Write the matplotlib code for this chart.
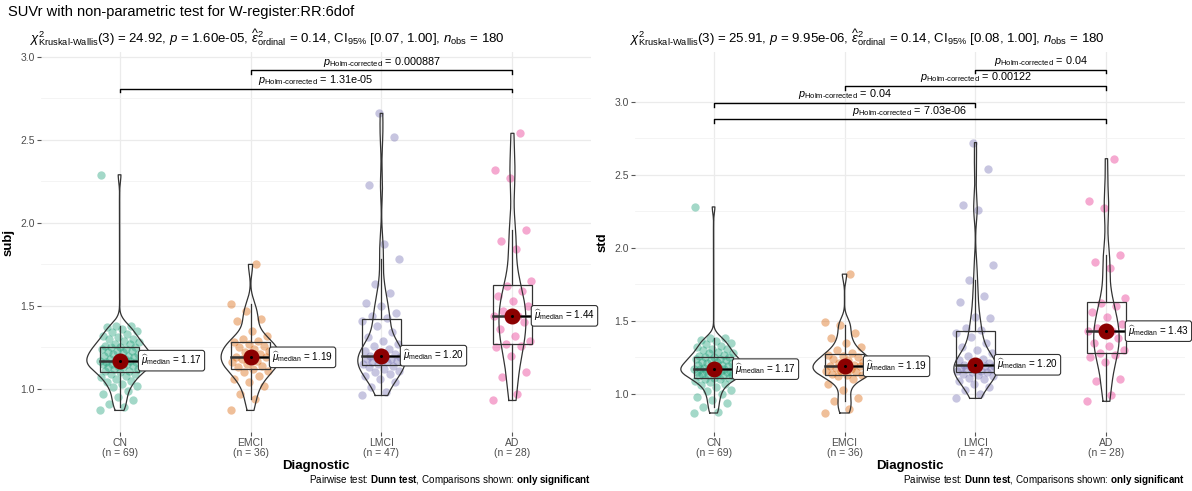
import numpy as np
import matplotlib
matplotlib.use('Agg')
from matplotlib import pyplot as plt
from matplotlib.patches import Rectangle

plt.rcParams['font.family'] = ['Liberation Sans', 'DejaVu Sans']
plt.rcParams['mathtext.fontset'] = 'custom'
plt.rcParams['mathtext.rm'] = 'Liberation Sans'
plt.rcParams['mathtext.it'] = 'Liberation Sans:italic'
plt.rcParams['mathtext.bf'] = 'Liberation Sans:bold'

groups = ['CN', 'EMCI', 'LMCI', 'AD']
colors = ['#1B9E77', '#D95F02', '#7570B3', '#E7298A']

# subj values per group
subj_cn = [0.87, 0.89, 0.91, 0.93, 0.95, 0.97, 0.99, 1.01, 1.02, 1.03, 1.04, 1.05,
           1.06, 1.07, 1.08, 1.09, 1.09, 1.10, 1.11, 1.11, 1.12, 1.12, 1.13, 1.13,
           1.14, 1.14, 1.15, 1.15, 1.15, 1.16, 1.16, 1.16, 1.17, 1.17, 1.17, 1.18,
           1.18, 1.19, 1.19, 1.20, 1.20, 1.21, 1.21, 1.22, 1.22, 1.23, 1.23, 1.24,
           1.24, 1.25, 1.25, 1.25, 1.26, 1.27, 1.27, 1.28, 1.29, 1.30, 1.30, 1.31,
           1.32, 1.33, 1.34, 1.35, 1.36, 1.37, 1.38, 1.38, 2.29]
subj_emci = [0.87, 0.94, 0.97, 1.02, 1.04, 1.06, 1.08, 1.10, 1.11, 1.12, 1.13, 1.14,
             1.15, 1.16, 1.17, 1.18, 1.19, 1.19, 1.19, 1.21, 1.22, 1.23, 1.24, 1.25,
             1.26, 1.27, 1.28, 1.29, 1.30, 1.32, 1.35, 1.41, 1.42, 1.47, 1.51, 1.75]
subj_lmci = [0.96, 0.98, 1.01, 1.04, 1.06, 1.08, 1.09, 1.10, 1.11, 1.12, 1.13, 1.14,
             1.15, 1.15, 1.16, 1.16, 1.17, 1.17, 1.18, 1.18, 1.19, 1.19, 1.19, 1.20,
             1.21, 1.22, 1.23, 1.24, 1.26, 1.27, 1.29, 1.31, 1.34, 1.38, 1.41, 1.43,
             1.44, 1.46, 1.50, 1.52, 1.58, 1.63, 1.78, 1.87, 2.23, 2.52, 2.66]
subj_ad = [0.93, 0.97, 1.07, 1.10, 1.20, 1.25, 1.26, 1.27, 1.29, 1.32, 1.36, 1.40,
           1.42, 1.44, 1.44, 1.47, 1.50, 1.53, 1.56, 1.59, 1.62, 1.65, 1.84, 1.89,
           1.96, 2.27, 2.32, 2.54]

# std values per group
std_cn = [0.87, 0.88, 0.91, 0.94, 0.96, 0.98, 1.00, 1.02, 1.03, 1.05, 1.06, 1.07,
          1.08, 1.09, 1.10, 1.10, 1.11, 1.11, 1.12, 1.12, 1.13, 1.13, 1.14, 1.14,
          1.15, 1.15, 1.15, 1.16, 1.16, 1.16, 1.17, 1.17, 1.17, 1.17, 1.17, 1.18,
          1.18, 1.19, 1.19, 1.20, 1.20, 1.21, 1.21, 1.22, 1.22, 1.23, 1.23, 1.24,
          1.24, 1.25, 1.25, 1.25, 1.26, 1.27, 1.28, 1.28, 1.29, 1.30, 1.31, 1.31,
          1.32, 1.33, 1.34, 1.35, 1.36, 1.37, 1.38, 1.38, 2.28]
std_emci = [0.87, 0.90, 0.95, 0.97, 1.03, 1.07, 1.10, 1.12, 1.13, 1.13, 1.14, 1.15,
            1.16, 1.16, 1.17, 1.18, 1.19, 1.19, 1.19, 1.20, 1.21, 1.22, 1.23, 1.24,
            1.25, 1.26, 1.27, 1.28, 1.30, 1.32, 1.35, 1.38, 1.42, 1.47, 1.49, 1.82]
std_lmci = [0.97, 1.00, 1.03, 1.05, 1.07, 1.09, 1.10, 1.11, 1.12, 1.13, 1.14, 1.15,
            1.15, 1.16, 1.16, 1.17, 1.17, 1.18, 1.18, 1.19, 1.19, 1.19, 1.20, 1.20,
            1.21, 1.22, 1.23, 1.24, 1.26, 1.28, 1.30, 1.32, 1.35, 1.39, 1.42, 1.44,
            1.45, 1.52, 1.53, 1.63, 1.67, 1.78, 1.88, 2.26, 2.29, 2.54, 2.72]
std_ad = [0.95, 0.99, 1.09, 1.10, 1.22, 1.25, 1.27, 1.28, 1.30, 1.33, 1.35, 1.38,
          1.42, 1.43, 1.43, 1.45, 1.48, 1.53, 1.56, 1.60, 1.62, 1.66, 1.86, 1.90,
          1.95, 2.27, 2.32, 2.61]

subj_sub = (r'$\chi^2_{\text{Kruskal-Wallis}}$(3) = 24.92, $\mathit{p}$ = 1.60e-05, '
            r'$\widehat{\varepsilon}^2_{\mathrm{ordinal}}$ = 0.14, CI$_{95\%}$ [0.07, 1.00], '
            r'$\mathit{n}_{\mathrm{obs}}$ = 180')
std_sub = (r'$\chi^2_{\text{Kruskal-Wallis}}$(3) = 25.91, $\mathit{p}$ = 9.95e-06, '
           r'$\widehat{\varepsilon}^2_{\mathrm{ordinal}}$ = 0.14, CI$_{95\%}$ [0.08, 1.00], '
           r'$\mathit{n}_{\mathrm{obs}}$ = 180')

# pairwise comparisons: (group a, group b, bracket height, p label)
subj_pairs = [(2, 4, 2.92, '0.000887'), (1, 4, 2.81, '1.31e-05')]
std_pairs = [(3, 4, 3.22, '0.04'), (2, 4, 3.11, '0.00122'),
             (1, 3, 2.99, '0.04'), (1, 4, 2.88, '7.03e-06')]

GRID = '#EBEBEB'
DARK = '#333333'


def kde(vals):
    v = np.asarray(vals, dtype=float)
    n = len(v)
    q1, q3 = np.percentile(v, [25, 75])
    bw = 0.9 * min(v.std(ddof=1), (q3 - q1) / 1.34) * n ** -0.2
    grid = np.linspace(v.min(), v.max(), 512)
    z = (grid[:, None] - v[None, :]) / bw
    dens = np.exp(-0.5 * z ** 2).sum(1) / (n * bw * np.sqrt(2 * np.pi))
    return grid, dens


def panel(ax, data, ylabel, ylim, pairs, tip):
    ax.set_xlim(0.4, 4.6)
    ax.set_ylim(*ylim)
    ax.set_yticks([1.0, 1.5, 2.0, 2.5, 3.0])
    ax.set_yticks([1.25, 1.75, 2.25, 2.75], minor=True)
    ax.set_xticks([1, 2, 3, 4])
    ax.set_xticklabels(['%s\n(n = %d)' % (g, len(d)) for g, d in zip(groups, data)],
                       linespacing=1.0)
    ax.grid(True, which='major', color=GRID, lw=0.9)
    ax.grid(True, which='minor', axis='y', color='#F3F3F3', lw=0.6)
    ax.set_axisbelow(True)
    for s in ax.spines.values():
        s.set_visible(False)
    ax.tick_params(which='major', length=3, color='#555555', labelcolor='#4D4D4D',
                   labelsize=7.5, pad=1.5)
    ax.tick_params(which='minor', length=0)
    ax.set_xlabel('Diagnostic', fontsize=9.5, fontweight='bold', labelpad=1)
    ax.set_ylabel(ylabel, fontsize=9.5, fontweight='bold', labelpad=4)

    dens_all = [kde(d) for d in data]
    dmax = max(d.max() for _, d in dens_all)
    for i, (vals, col) in enumerate(zip(data, colors)):
        x0 = i + 1
        v = np.asarray(vals, dtype=float)
        off = ((np.arange(len(v)) * 0.618034) % 1 - 0.5) * 0.3
        ax.scatter(x0 + off, v, s=36, color=col, alpha=0.4, lw=0, zorder=3)

        q1, med, q3 = np.percentile(v, [25, 50, 75])
        iqr = q3 - q1
        lo = v[v >= q1 - 1.5 * iqr].min()
        hi = v[v <= q3 + 1.5 * iqr].max()
        ax.add_patch(Rectangle((x0 - 0.15, q1), 0.3, iqr, fill=False, ec=DARK,
                               lw=0.9, zorder=4))
        ax.plot([x0, x0], [q3, hi], color=DARK, lw=0.9, zorder=4)
        ax.plot([x0, x0], [lo, q1], color=DARK, lw=0.9, zorder=4)
        ax.plot([x0 - 0.15, x0 + 0.15], [med, med], color=DARK, lw=1.8, zorder=4)

        grid, dens = dens_all[i]
        hw = dens / dmax * 0.25
        ax.plot(np.r_[x0 - hw, (x0 + hw)[::-1], x0 - hw[0]],
                np.r_[grid, grid[::-1], grid[0]], color=DARK, lw=0.9, zorder=5)

        ax.plot([x0, x0 + 0.16], [med, med], color='black', lw=1.0, zorder=6)
        ax.plot(x0, med, 'o', ms=10.5, color='#8B0000', mec='#8B0000', zorder=7)
        ax.plot(x0, med, 'o', ms=1.2, color='black', zorder=8)
        ax.text(x0 + 0.165, med, r'$\widehat{\mu}_{\mathrm{median}}$ = %.2f' % med,
                fontsize=7.1, va='center', ha='left', zorder=9,
                bbox=dict(boxstyle='round,pad=0.28,rounding_size=0.25', fc='white',
                          ec=DARK, lw=0.8))

    for a, b, y, p in pairs:
        ax.plot([a, a, b, b], [y - tip, y, y, y - tip], color='black', lw=1.0, zorder=6)
        ax.annotate(r'$\mathit{p}_{\text{Holm-corrected}}$ = ' + p,
                    xy=((a + b) / 2, y), xytext=(0, 1.2), textcoords='offset points',
                    ha='center', va='bottom', fontsize=7.8)

    ax.text(1.0, -48 / 380, r'Pairwise test: $\mathbf{Dunn\ test}$, Comparisons shown: '
            r'$\mathbf{only\ significant}$', transform=ax.transAxes, ha='right',
            va='center', fontsize=7.1)
    return ax


fig = plt.figure(figsize=(11.92, 4.91), dpi=100)
ax1 = fig.add_axes([41 / 1192, 1 - 432 / 491, 550 / 1192, 380 / 491])
ax2 = fig.add_axes([635 / 1192, 1 - 432 / 491, 550 / 1192, 380 / 491])

panel(ax1, [subj_cn, subj_emci, subj_lmci, subj_ad], 'subj', (0.74, 3.03),
      subj_pairs, 0.024)
panel(ax2, [std_cn, std_emci, std_lmci, std_ad], 'std', (0.74, 3.34),
      std_pairs, 0.027)

fig.text(8 / 1192, 1 - 12 / 491, 'SUVr with non-parametric test for W-register:RR:6dof',
         fontsize=10.5, va='center', ha='left')
fig.text(30 / 1192, 1 - 38 / 491, subj_sub, fontsize=9.5, va='center', ha='left')
fig.text(630 / 1192, 1 - 38 / 491, std_sub, fontsize=9.5, va='center', ha='left')

fig.savefig('out.png', dpi=100)
